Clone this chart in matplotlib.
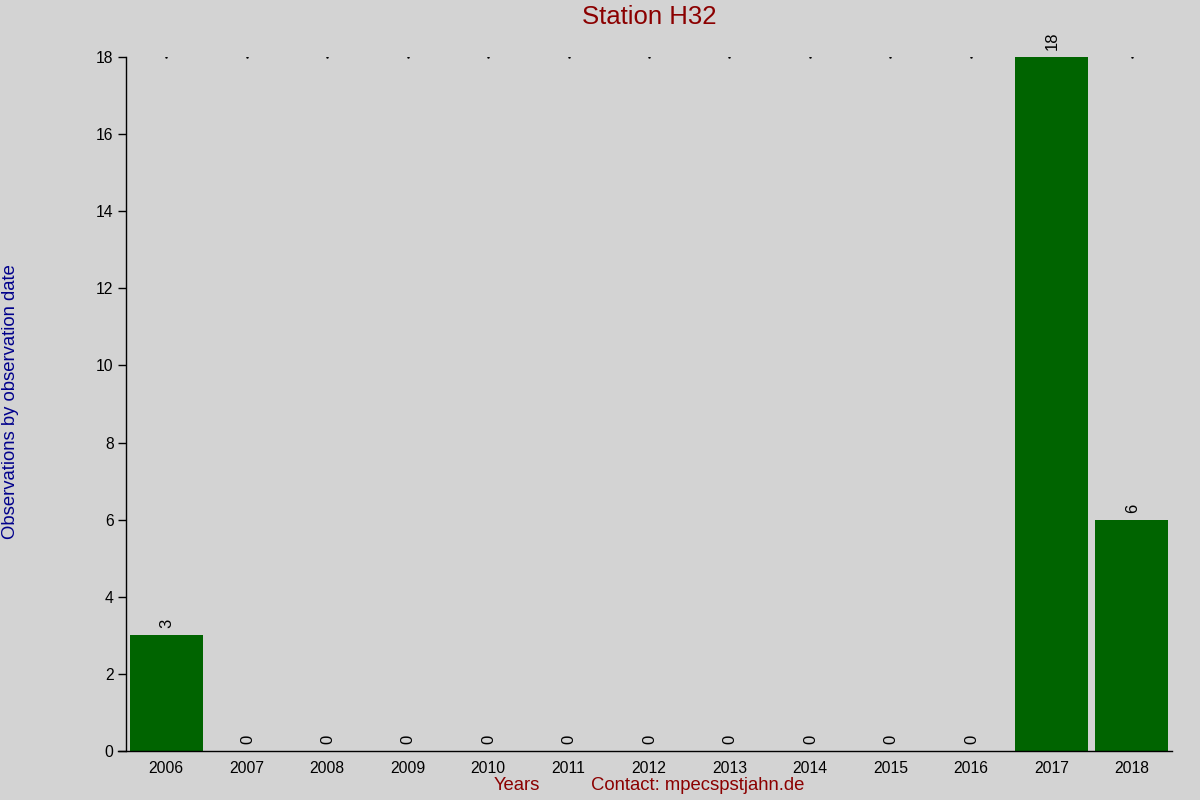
import matplotlib
matplotlib.use("Agg")
import matplotlib.pyplot as plt

years = ["2006", "2007", "2008", "2009", "2010", "2011", "2012",
         "2013", "2014", "2015", "2016", "2017", "2018"]
counts = [3, 0, 0, 0, 0, 0, 0, 0, 0, 0, 0, 18, 6]
yticks = [0, 2, 4, 6, 8, 10, 12, 14, 16, 18]

plt.rcParams['font.family'] = ['Liberation Sans', 'DejaVu Sans']

bg = '#D3D3D3'
fig = plt.figure(figsize=(12, 8), dpi=100, facecolor=bg)
ax = fig.add_axes([0.105, 0.06125, 0.8717, 0.8675], facecolor=bg)

x = list(range(len(years)))
bars = ax.bar(x, counts, width=0.91, color='#006400', zorder=2)
for xi, c in zip(x, counts):
    ax.annotate(str(c), (xi, c), xytext=(0.5, 5), textcoords='offset points',
                rotation=90, ha='center', va='bottom', fontsize=12, color='black')

# small dots along the top at each category (behind the bars)
ax.plot(x, [yticks[-1]] * len(x), linestyle='none', marker='s', markersize=0.7,
        color='black', zorder=1)

ax.set_xlim(-0.5, len(years) - 0.5)
ax.set_ylim(0, yticks[-1])
ax.set_xticks(x)
ax.set_xticklabels(years, fontsize=11.3)
ax.set_yticks(yticks)
ax.set_yticklabels([str(t) for t in yticks], fontsize=11.3)
ax.tick_params(axis='x', length=0, pad=7)
ax.tick_params(axis='y', length=6, width=1, pad=3, direction='out')
for s in ['top', 'right']:
    ax.spines[s].set_visible(False)
ax.spines['left'].set_linewidth(1)
ax.spines['bottom'].set_linewidth(1)
ax.spines['bottom'].set_bounds(-0.6, len(years) - 0.5)

fig.text(649 / 1200, 1 - 17 / 800, "Station H32", ha='center', va='center',
         fontsize=18.5, color='#8B0000')
fig.text(11 / 1200, 1 - 402 / 800, "Observations by observation date", rotation=90,
         ha='center', va='center', fontsize=13.3, color='#00008B')
fig.text(517 / 1200, 1 - 785 / 800, "Years", ha='center', va='center',
         fontsize=13.3, color='#8B0000')
fig.text(591 / 1200, 1 - 785 / 800, "Contact: mpecspstjahn.de", ha='left', va='center',
         fontsize=13.3, color='#8B0000')

fig.savefig("out.png", dpi=100, facecolor=bg)
